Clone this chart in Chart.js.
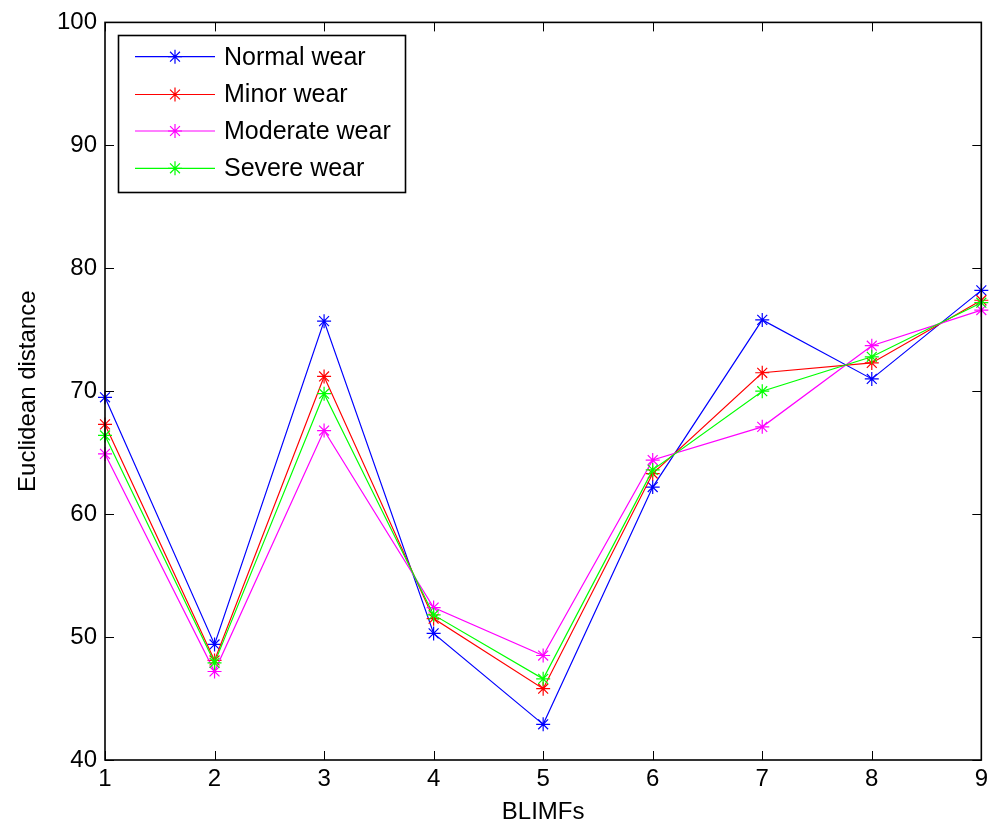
<!DOCTYPE html>
<html>
<head>
<meta charset="utf-8">
<script src="https://cdn.jsdelivr.net/npm/chart.js@4/dist/chart.umd.min.js"></script>
<style>
  html, body { margin: 0; padding: 0; background: #fff; }
  #wrap { width: 993px; height: 827px; }
</style>
</head>
<body>
<div id="wrap"><canvas id="c" width="993" height="827"></canvas></div>
<script>
// BLIMF index along the x axis
const blimfs = ['1', '2', '3', '4', '5', '6', '7', '8', '9'];
const yTicks = [40, 50, 60, 70, 80, 90, 100];

// Euclidean distance per wear condition
const normalWear   = [69.5, 49.4, 75.7, 50.3, 42.9, 62.2, 75.8, 71.0, 78.2];
const minorWear    = [67.3, 48.1, 71.2, 51.5, 45.8, 63.3, 71.5, 72.3, 77.4];
const moderateWear = [64.9, 47.2, 66.8, 52.4, 48.5, 64.4, 67.1, 73.7, 76.6];
const severeWear   = [66.4, 47.9, 69.8, 51.8, 46.6, 63.6, 70.0, 72.8, 77.2];

const seriesNames = ['Normal wear', 'Minor wear', 'Moderate wear', 'Severe wear'];
const seriesColors = ['#0000ff', '#ff0000', '#ff00ff', '#00ff00'];
const seriesData = [normalWear, minorWear, moderateWear, severeWear];

const FONT = '"Liberation Sans", Arial, sans-serif';

const datasets = seriesData.map((d, i) => ({
  label: seriesNames[i],
  data: d,
  borderColor: seriesColors[i],
  backgroundColor: seriesColors[i],
  borderWidth: 1.2,
  pointStyle: 'star',
  pointRadius: 7,
  pointBorderWidth: 1.2,
  pointBorderColor: seriesColors[i],
  pointHoverRadius: 7,
  tension: 0,
  fill: false,
  order: seriesData.length - i
}));

// Box frame, inward ticks on all four sides, and the boxed legend
const framePlugin = {
  id: 'frame',
  afterDraw(chart) {
    const ctx = chart.ctx;
    const a = chart.chartArea;
    const xs = chart.scales.x, ys = chart.scales.y;
    const tl = 9;
    ctx.save();
    ctx.strokeStyle = '#000';
    ctx.lineWidth = 1;
    ctx.beginPath();
    blimfs.forEach((b, i) => {
      const px = Math.round(xs.getPixelForValue(i)) + 0.5;
      ctx.moveTo(px, a.bottom); ctx.lineTo(px, a.bottom - tl);
      ctx.moveTo(px, a.top); ctx.lineTo(px, a.top + tl);
    });
    yTicks.forEach(v => {
      const py = Math.round(ys.getPixelForValue(v)) + 0.5;
      ctx.moveTo(a.left, py); ctx.lineTo(a.left + tl, py);
      ctx.moveTo(a.right, py); ctx.lineTo(a.right - tl, py);
    });
    ctx.stroke();
    ctx.lineWidth = 1.6;
    ctx.strokeRect(a.left, a.top, a.right - a.left, a.bottom - a.top);

    // legend
    const lx = 118.5, ly = 35.5, lw = 287, lh = 157;
    ctx.fillStyle = '#fff';
    ctx.fillRect(lx, ly, lw, lh);
    ctx.lineWidth = 1.6;
    ctx.strokeStyle = '#000';
    ctx.strokeRect(lx, ly, lw, lh);
    const rows = [56.7, 94.5, 131, 168.3];
    ctx.font = '25px ' + FONT;
    ctx.textBaseline = 'middle';
    ctx.textAlign = 'left';
    seriesNames.forEach((name, i) => {
      const y = rows[i];
      ctx.strokeStyle = seriesColors[i];
      ctx.lineWidth = 1.2;
      ctx.beginPath();
      ctx.moveTo(135, y); ctx.lineTo(215, y);
      ctx.stroke();
      Chart.helpers.drawPoint(ctx, { pointStyle: 'star', radius: 7, borderWidth: 1.2 }, 175, y);
      ctx.fillStyle = '#000';
      ctx.fillText(name, 224, y + 1);
    });
    ctx.restore();
  }
};

new Chart(document.getElementById('c'), {
  type: 'line',
  data: { labels: blimfs, datasets },
  plugins: [framePlugin],
  options: {
    responsive: false,
    animation: false,
    devicePixelRatio: 1,
    layout: { padding: { top: 21, right: 9, left: 0, bottom: 0 } },
    plugins: {
      legend: { display: false },
      tooltip: { enabled: false },
      title: { display: false }
    },
    scales: {
      x: {
        type: 'category',
        offset: false,
        grid: { display: false, drawTicks: false },
        border: { display: false },
        ticks: {
          color: '#000',
          font: { family: FONT, size: 24 },
          padding: 5,
          maxRotation: 0,
          autoSkip: false
        },
        title: {
          display: true,
          text: 'BLIMFs',
          color: '#000',
          font: { family: FONT, size: 24 },
          padding: { top: 0, bottom: 0 }
        },
        afterFit(scale) { scale.height = 67; }
      },
      y: {
        min: 40,
        max: 100,
        grid: { display: false, drawTicks: false },
        border: { display: false },
        ticks: {
          stepSize: 10,
          color: '#000',
          font: { family: FONT, size: 24 },
          padding: 8
        },
        title: {
          display: true,
          text: 'Euclidean distance',
          color: '#000',
          font: { family: FONT, size: 24 },
          padding: { top: 14, bottom: 0 }
        },
        afterFit(scale) { scale.width = 105; }
      }
    }
  }
});
</script>
</body>
</html>
